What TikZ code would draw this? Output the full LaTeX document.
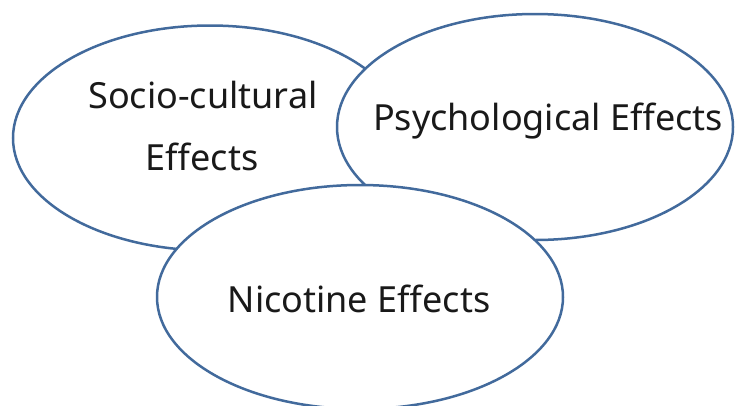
\documentclass[tikz,border=0pt]{standalone}
\usepackage{fontspec}
\setmainfont{Noto Sans}
\usetikzlibrary{shapes.geometric}
\definecolor{rim}{RGB}{66,106,156}
\tikzset{
  bubble/.style={ellipse, draw=rim, line width=2.5pt, fill=white, inner sep=0pt},
  lbl/.style={anchor=base, inner sep=0pt, text=black!90, font=\fontsize{36}{42}\selectfont}
}
\begin{document}
\begin{tikzpicture}[x=1pt,y=-1pt]
\useasboundingbox (0,0) rectangle (735,405);
\node[bubble, minimum width=394pt, minimum height=225pt] (soc) at (210,138) {};
\node[lbl] (socA) at (203,108) {Socio-cultural};
\node[lbl] (socB) at (202,170) {Effects};
\node[bubble, minimum width=396pt, minimum height=226pt] (psy) at (535,127) {};
\node[lbl] (psyT) at (548,130) {Psychological Effects};
\node[bubble, minimum width=406pt, minimum height=224pt] (nic) at (360,297) {};
\node[lbl] (nicT) at (359,312) {Nicotine Effects};
\end{tikzpicture}
\end{document}
